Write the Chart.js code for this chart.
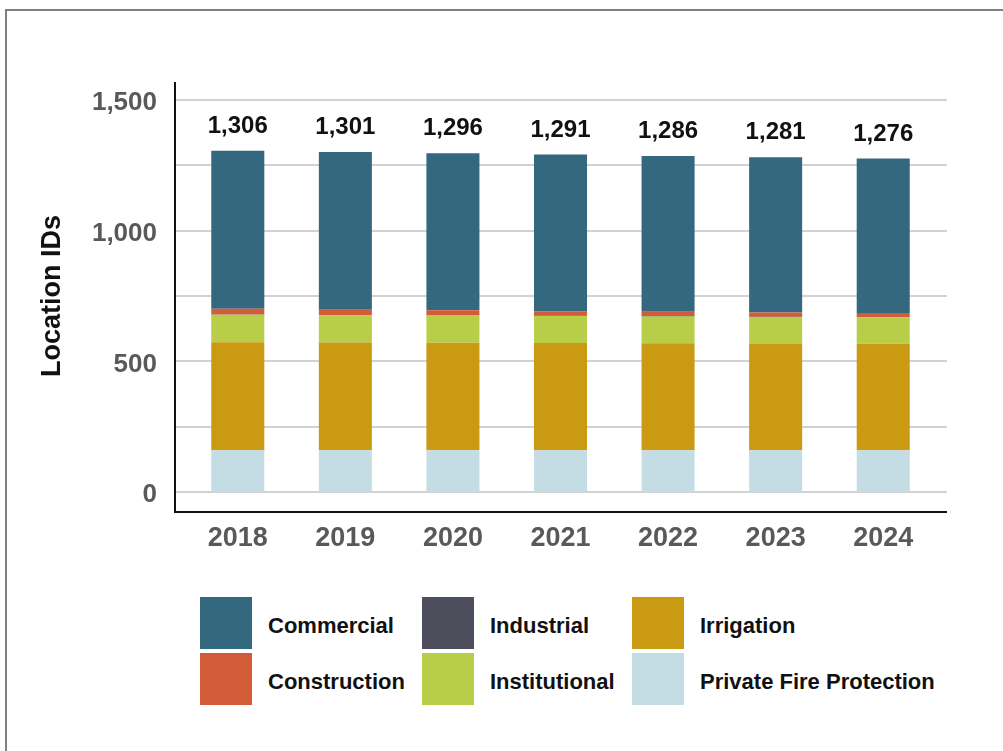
<!DOCTYPE html>
<html>
<head>
<meta charset="utf-8">
<script src="https://cdn.jsdelivr.net/npm/chart.js@4/dist/chart.umd.min.js"></script>
<style>
  html, body { margin: 0; padding: 0; background: #fff; }
  body { width: 1003px; height: 751px; position: relative; overflow: hidden; font-family: 'Liberation Sans', Arial, sans-serif; }
  .frame { position: absolute; left: 5px; top: 9px; width: 1100px; height: 800px; border-left: 2px solid #808080; border-top: 2px solid #808080; }
  #js-barChart { position: absolute; left: 0; top: 0; }
  .legend { position: absolute; left: 200px; top: 597px; margin: 0; padding: 0; list-style: none;
    display: grid; grid-template-columns: 222px 210px auto; row-gap: 4px; }
  .legend__item { display: flex; align-items: center; font-size: 22px; font-weight: bold; color: #111; }
  .legend__swatch { width: 52px; height: 52px; margin-right: 16px; flex: none; }
  .legend__text { position: relative; top: 3px; }
</style>
</head>
<body>
<div class="frame"></div>
<canvas id="js-barChart" width="1003" height="560"></canvas>
<ul class="legend" id="js-legend"></ul>
<script>
'use strict'

{
  const years = ['2018', '2019', '2020', '2021', '2022', '2023', '2024']

  // location IDs per customer class, stacked bottom to top
  const privateFire   = [160, 160, 160, 160, 160, 160, 160]
  const irrigation    = [413, 412, 411, 410, 409, 408, 407]
  const institutional = [105, 104, 104, 103, 103, 102, 102]
  const industrial    = [1, 1, 1, 1, 1, 1, 1]
  const construction  = [22, 20, 19, 18, 17, 16, 15]
  const commercial    = [605, 604, 601, 599, 596, 594, 591]

  const yTicks = [0, 250, 500, 750, 1000, 1250, 1500]

  const colors = {
    commercial: '#33687f',
    industrial: '#4d4e5c',
    irrigation: '#c99a12',
    construction: '#d25c37',
    institutional: '#b8ce48',
    privateFire: '#c4dde4',
    grid: '#d2d2d2',
    axis: '#111',
    tick: '#595959'
  }

  // legend reads left to right, top to bottom
  const legendItems = [
    ['Commercial', colors.commercial],
    ['Industrial', colors.industrial],
    ['Irrigation', colors.irrigation],
    ['Construction', colors.construction],
    ['Institutional', colors.institutional],
    ['Private Fire Protection', colors.privateFire]
  ]

  const font = "'Liberation Sans', Arial, sans-serif"
  Chart.defaults.font.family = font

  const makeSet = (label, data, color) => ({
    label: label,
    data: data,
    backgroundColor: color,
    borderWidth: 0,
    barPercentage: 0.493,
    categoryPercentage: 1
  })

  // grid lines and axis lines run a little past the bars on both sides
  const axisFramePlugin = {
    id: 'axisFrame',
    beforeDatasetsDraw(chart) {
      const {ctx, chartArea, scales: {y}} = chart
      ctx.save()
      ctx.strokeStyle = colors.grid
      ctx.lineWidth = 2
      yTicks.forEach(v => {
        const py = Math.round(y.getPixelForValue(v))
        ctx.beginPath()
        ctx.moveTo(chartArea.left - 9, py)
        ctx.lineTo(chartArea.right + 10, py)
        ctx.stroke()
      })
      ctx.restore()
    },
    afterDatasetsDraw(chart) {
      const {ctx, chartArea} = chart
      const left = chartArea.left - 9
      const bottom = chartArea.bottom + 20
      ctx.save()
      ctx.strokeStyle = colors.axis
      ctx.lineWidth = 2
      ctx.beginPath()
      ctx.moveTo(left, chartArea.top - 18)
      ctx.lineTo(left, bottom)
      ctx.lineTo(chartArea.right + 10, bottom)
      ctx.stroke()
      ctx.restore()
    }
  }

  // totals above each bar
  const totalLabelPlugin = {
    id: 'totalLabel',
    afterDatasetsDraw(chart) {
      const {ctx, scales: {x, y}} = chart
      ctx.save()
      ctx.fillStyle = '#111'
      ctx.font = `bold 24px ${font}`
      ctx.textAlign = 'center'
      ctx.textBaseline = 'alphabetic'
      years.forEach((year, i) => {
        const total = chart.data.datasets.reduce((sum, ds) => sum + ds.data[i], 0)
        ctx.fillText(total.toLocaleString('en-US'), x.getPixelForValue(i), y.getPixelForValue(total) - 18)
      })
      ctx.restore()
    }
  }

  const config = {
    type: 'bar',
    data: {
      labels: years,
      datasets: [
        makeSet('Private Fire Protection', privateFire, colors.privateFire),
        makeSet('Irrigation', irrigation, colors.irrigation),
        makeSet('Institutional', institutional, colors.institutional),
        makeSet('Industrial', industrial, colors.industrial),
        makeSet('Construction', construction, colors.construction),
        makeSet('Commercial', commercial, colors.commercial)
      ]
    },
    options: {
      responsive: false,
      animation: false,
      layout: { padding: { top: 100, right: 66, bottom: 0, left: 0 } },
      plugins: {
        legend: { display: false },
        tooltip: { enabled: false }
      },
      scales: {
        x: {
          stacked: true,
          grid: { display: false, drawTicks: false },
          border: { display: false },
          ticks: {
            color: colors.tick,
            font: { size: 27, weight: 'bold' },
            padding: 30,
            maxRotation: 0
          },
          afterFit: (scale) => { scale.height = 68 }
        },
        y: {
          stacked: true,
          min: 0,
          max: 1500,
          grid: { display: false, drawTicks: false },
          border: { display: false },
          afterBuildTicks: (scale) => { scale.ticks = yTicks.map(v => ({ value: v })) },
          ticks: {
            color: colors.tick,
            font: { size: 26, weight: 'bold' },
            padding: 27,
            labelOffset: 3,
            // only every other line gets a number
            callback: (value) => value % 500 === 0 ? value.toLocaleString('en-US') : ''
          },
          title: {
            display: true,
            text: 'Location IDs',
            color: '#111',
            font: { size: 27, weight: 'bold' },
            padding: { top: 36, bottom: 0 }
          },
          afterFit: (scale) => { scale.width = 184 }
        }
      }
    },
    plugins: [axisFramePlugin, totalLabelPlugin]
  }

  new Chart(document.getElementById('js-barChart'), config)

  const ul = document.getElementById('js-legend')
  legendItems.forEach(([name, color]) => {
    const li = document.createElement('li')
    li.classList.add('legend__item')
    const box = document.createElement('span')
    box.classList.add('legend__swatch')
    box.style.background = color
    const text = document.createElement('span')
    text.classList.add('legend__text')
    text.textContent = name
    li.appendChild(box)
    li.appendChild(text)
    ul.appendChild(li)
  })
}
</script>
</body>
</html>
